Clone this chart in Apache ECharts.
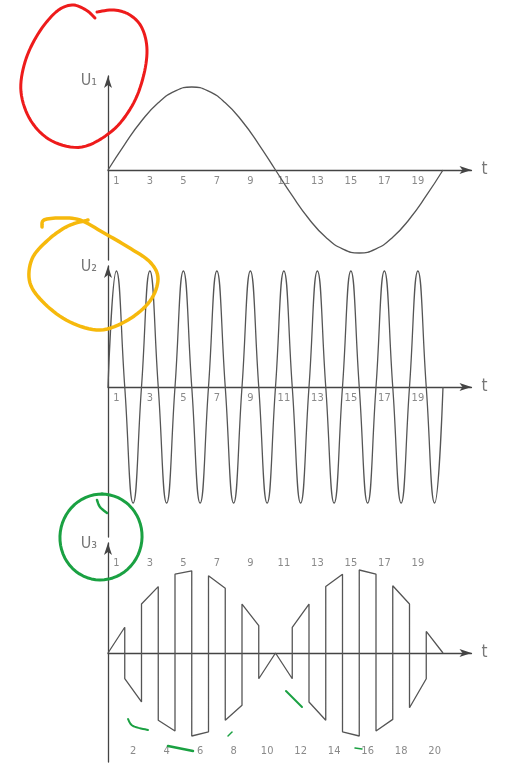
<!DOCTYPE html>
<html>
<head>
<meta charset="utf-8">
<script src="https://cdn.jsdelivr.net/npm/echarts@6/dist/echarts.min.js"></script>
<style>
  html, body { margin: 0; padding: 0; background: #fff; }
  #chart { width: 513px; height: 771px; }
</style>
</head>
<body>
<div id="chart"></div>
<script>
// U1: slow sine, one sample per time step
const u1Time = [0, 1, 2, 3, 4, 5, 6, 7, 8, 9, 10, 11, 12, 13, 14, 15, 16, 17, 18, 19, 20];
const u1Values = [0, 0.31, 0.59, 0.81, 0.95, 1, 0.95, 0.81, 0.59, 0.31, 0, -0.31, -0.59, -0.81, -0.95, -1, -0.95, -0.81, -0.59, -0.31, 0];

// U2: fast sine, peaks and zero crossings
const u2Time = [0, 0.5, 1, 1.5, 2, 2.5, 3, 3.5, 4, 4.5, 5, 5.5, 6, 6.5, 7, 7.5, 8, 8.5, 9, 9.5, 10,
  10.5, 11, 11.5, 12, 12.5, 13, 13.5, 14, 14.5, 15, 15.5, 16, 16.5, 17, 17.5, 18, 18.5, 19, 19.5, 20];
const u2Values = [0, 1, 0, -1, 0, 1, 0, -1, 0, 1, 0, -1, 0, 1, 0, -1, 0, 1, 0, -1, 0,
  1, 0, -1, 0, 1, 0, -1, 0, 1, 0, -1, 0, 1, 0, -1, 0, 1, 0, -1, 0];

// U3: pulse segments (start and end of each step, jumps between them)
const u3Time = [0, 1, 1, 2, 2, 3, 3, 4, 4, 5, 5, 6, 6, 7, 7, 8, 8, 9, 9, 10,
  10, 11, 11, 12, 12, 13, 13, 14, 14, 15, 15, 16, 16, 17, 17, 18, 18, 19, 19, 20];
const u3Values = [0, 0.31, -0.31, -0.59, 0.59, 0.8, -0.81, -0.94, 0.95, 0.99, -1, -0.95, 0.93, 0.78, -0.81, -0.63, 0.59, 0.33, -0.31, 0,
  0, -0.31, 0.31, 0.59, -0.59, -0.81, 0.8, 0.95, -0.95, -1, 1, 0.95, -0.94, -0.8, 0.81, 0.59, -0.66, -0.31, 0.26, 0];

const oddLabels = ['1', '3', '5', '7', '9', '11', '13', '15', '17', '19'];
const evenLabels = ['2', '4', '6', '8', '10', '12', '14', '16', '18', '20'];

const chart = echarts.init(document.getElementById('chart'));

const lineColor = '#555';
const textColor = '#8a8a8a';
const font = "'DejaVu Sans Condensed', 'DejaVu Sans', sans-serif";

// panel layout in pixels: top of axis line, bottom, zero line, px per unit
const panels = [
  { top: 76, bottom: 260, zero: 170, unit: 83, name: 'U₁', nameGap: -5 },
  { top: 266, bottom: 537, zero: 387, unit: 116, name: 'U₂', nameGap: -1 },
  { top: 543, bottom: 762, zero: 653, unit: 83, name: 'U₃', nameGap: -1 }
];
const xLeft = 108;
const xMax = 21.7;
const xUnit = 16.75;

// label n sits in the middle of step n
function oddFmt(v) {
  const k = v - 0.5;
  if (Math.abs(k - Math.round(k)) > 1e-6) return '';
  const i = Math.round(k);
  return i % 2 === 0 && oddLabels[i / 2] ? oddLabels[i / 2] : '';
}
function evenFmt(v) {
  const k = v - 0.5;
  if (Math.abs(k - Math.round(k)) > 1e-6) return '';
  const i = Math.round(k);
  return i % 2 === 1 && evenLabels[(i - 1) / 2] ? evenLabels[(i - 1) / 2] : '';
}

const grid = panels.map(p => ({
  left: xLeft,
  top: p.top,
  width: xMax * xUnit,
  height: p.bottom - p.top,
  outerBoundsMode: 'none'
}));

const yAxis = panels.map((p, i) => ({
  type: 'value',
  gridIndex: i,
  min: -(p.bottom - p.zero) / p.unit,
  max: (p.zero - p.top) / p.unit,
  name: p.name,
  nameLocation: 'end',
  nameGap: p.nameGap,
  nameTextStyle: {
    fontFamily: font,
    fontSize: 16,
    color: '#777',
    align: 'right',
    verticalAlign: 'middle',
    padding: [0, 11, 0, 0]
  },
  axisLine: {
    show: true,
    symbol: ['none', 'arrow'],
    symbolSize: [6, 12],
    lineStyle: { color: '#444', width: 1.3 }
  },
  axisTick: { show: false },
  axisLabel: { show: false },
  splitLine: { show: false }
}));

// axis line through zero with the arrow and the "t"
function mainX(i) {
  return {
    type: 'value',
    gridIndex: i,
    min: 0,
    max: xMax,
    interval: 0.5,
    name: 't',
    nameLocation: 'end',
    nameGap: 10,
    nameTextStyle: { fontFamily: font, fontSize: 17, color: '#777', verticalAlign: 'middle' },
    axisLine: {
      onZero: true,
      symbol: ['none', 'arrow'],
      symbolSize: [6, 12],
      lineStyle: { color: '#444', width: 1.3 }
    },
    axisTick: { show: false },
    splitLine: { show: false },
    axisLabel: { show: false }
  };
}

// label-only axis, moved into the grid by offset
function labelX(i, position, offset, margin, fmt) {
  return {
    type: 'value', gridIndex: i, min: 0, max: xMax, interval: 0.5,
    position: position, offset: offset,
    axisLine: { show: false, onZero: false }, axisTick: { show: false }, splitLine: { show: false },
    axisLabel: { margin: margin, fontFamily: font, fontSize: 11, color: textColor, formatter: fmt }
  };
}

const xAxis = [
  mainX(0),
  mainX(1),
  mainX(2),
  labelX(0, 'bottom', -90, 6, oddFmt),
  labelX(1, 'bottom', -150, 6, oddFmt),
  labelX(2, 'top', -28, 2, oddFmt),
  labelX(2, 'bottom', -18, 2, evenFmt)
];

const zip = (a, b) => a.map((t, i) => [t, b[i]]);

const series = [
  {
    type: 'line', xAxisIndex: 0, yAxisIndex: 0, smooth: true, showSymbol: false,
    lineStyle: { color: lineColor, width: 1.3 }, data: zip(u1Time, u1Values)
  },
  {
    type: 'line', xAxisIndex: 1, yAxisIndex: 1, smooth: 0.5, showSymbol: false,
    lineStyle: { color: lineColor, width: 1.3 }, data: zip(u2Time, u2Values)
  },
  {
    type: 'line', xAxisIndex: 2, yAxisIndex: 2, showSymbol: false,
    lineStyle: { color: lineColor, width: 1.3 }, data: zip(u3Time, u3Values)
  }
];

// hand-drawn pen marks (decoration only): catmull-rom through a few control points
function curve(ctrl) {
  const out = [];
  const steps = 8;
  for (let i = 0; i < ctrl.length - 1; i++) {
    const p0 = ctrl[Math.max(i - 1, 0)], p1 = ctrl[i], p2 = ctrl[i + 1], p3 = ctrl[Math.min(i + 2, ctrl.length - 1)];
    for (let s = 0; s < steps; s++) {
      const t = s / steps, t2 = t * t, t3 = t2 * t;
      out.push([0, 1].map(d => 0.5 * (2 * p1[d] + (p2[d] - p0[d]) * t +
        (2 * p0[d] - 5 * p1[d] + 4 * p2[d] - p3[d]) * t2 + (3 * p1[d] - p0[d] - 3 * p2[d] + p3[d]) * t3)));
    }
  }
  out.push(ctrl[ctrl.length - 1]);
  return out;
}
function loop(cx, cy, rx, ry, rot, start, sweep) {
  const pts = [];
  const n = 60;
  const r = rot * Math.PI / 180;
  for (let j = 0; j <= n; j++) {
    const a = (start + sweep * j / n) * Math.PI / 180;
    const x = rx * Math.cos(a);
    const y = ry * Math.sin(a);
    pts.push([cx + x * Math.cos(r) - y * Math.sin(r), cy + x * Math.sin(r) + y * Math.cos(r)]);
  }
  return pts;
}
function pen(points, color, width) {
  return {
    type: 'polyline',
    shape: { points: points },
    style: { stroke: color, lineWidth: width, fill: null, lineCap: 'round', lineJoin: 'round' },
    z: 100
  };
}

const red = '#ee1b1b';
const orange = '#f6b90c';
const green = '#1aa142';

const redPath = [[97, 12], [114, 10], [130, 15], [142, 28], [147, 50], [143, 78], [132, 106], [112, 131],
  [82, 147], [52, 141], [31, 121], [21, 92], [25, 62], [38, 34], [56, 12], [72, 5], [86, 10], [95, 18]];
const orangePath = [[42, 227], [44, 220], [60, 218], [80, 220], [104, 233], [128, 247], [150, 262], [158, 279],
  [150, 301], [128, 320], [100, 330], [70, 322], [45, 304], [30, 283], [32, 259], [48, 240], [68, 226], [88, 220]];

const graphic = [
  pen(curve(redPath), red, 3),
  pen(curve(orangePath), orange, 3.5),
  pen(loop(101, 537, 41, 43, 10, -100, 362), green, 3),
  pen(curve([[97, 500], [100, 507], [107, 513]]), green, 2.5),
  pen(curve([[128, 719], [133, 726], [148, 730]]), green, 2),
  pen([[168, 746], [193, 751]], green, 2.5),
  pen([[228, 736], [232, 732]], green, 1.5),
  pen([[286, 691], [302, 707]], green, 2),
  pen([[355, 748], [362, 749]], green, 1.5)
];

chart.setOption({
  backgroundColor: '#fff',
  animation: false,
  grid: grid,
  xAxis: xAxis,
  yAxis: yAxis,
  series: series,
  graphic: graphic
});

window.addEventListener('resize', () => chart.resize());
</script>
</body>
</html>
